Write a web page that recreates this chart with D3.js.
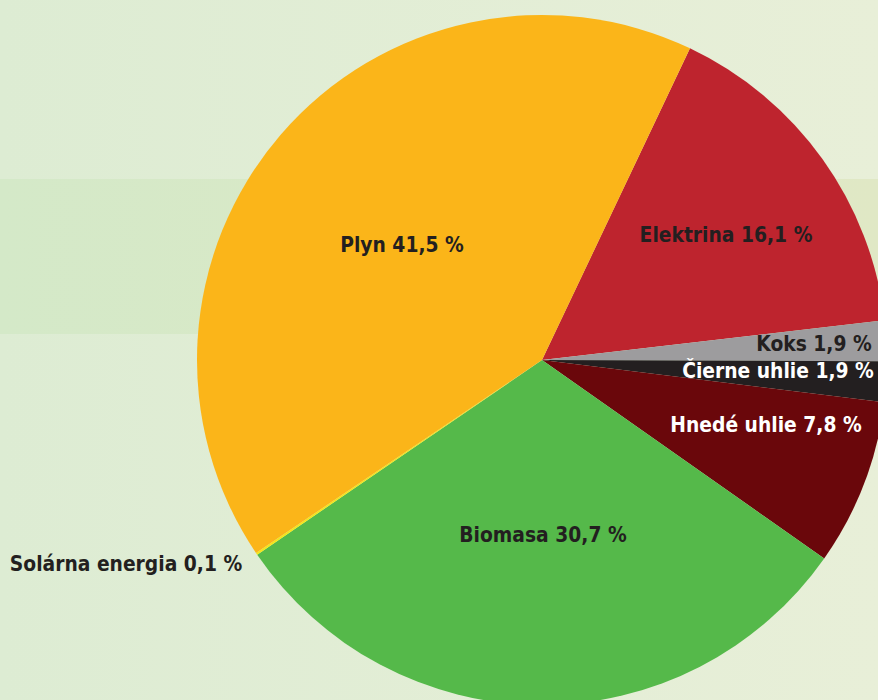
<!DOCTYPE html>
<html lang="sk">
<head>
<meta charset="UTF-8">
<title>Spotreba energie podľa zdroja</title>
<script src="https://d3js.org/d3.v7.min.js"></script>
<style>
  html, body { margin: 0; padding: 0; overflow: hidden; }
  svg { display: block; }
  .label { font-family: "DejaVu Sans Condensed", "DejaVu Sans", sans-serif; font-weight: bold; font-size: 20.8px; }
</style>
</head>
<body>
<svg width="878" height="700"></svg>
<script>
// data (order = clockwise from the top-right)
const zdroje  = ["Elektrina", "Koks", "Čierne uhlie", "Hnedé uhlie", "Biomasa", "Solárna energia", "Plyn"];
const podiely = [16.1, 1.9, 1.9, 7.8, 30.7, 0.1, 41.5];
const farby   = ["#be242e", "#9d9c9e", "#231f20", "#6a070b", "#55b94a", "#f4e61a", "#fbb519"];
const textFarby = ["#231f20", "#231f20", "#ffffff", "#ffffff", "#231f20", "#231f20", "#231f20"];

const W = 878, H = 700;
const cx = 542, cy = 360, R = 345;
const startUhol = 25.4 * Math.PI / 180;

// label placement relative to pie centre [dx, dy(baseline)]
const labelLayout = {
  "Plyn":            [-140, -108],
  "Elektrina":       [184, -118],
  "Koks":            [272, -9],
  "Čierne uhlie":    [236, 18],
  "Hnedé uhlie":     [224, 72],
  "Biomasa":         [1, 182],
  "Solárna energia": [-416, 211]
};

const data = zdroje.map((z, i) => ({ zdroj: z, podiel: podiely[i], farba: farby[i], text: textFarby[i] }));

const svg = d3.select("svg");
const defs = svg.append("defs");

const g1 = defs.append("linearGradient").attr("id", "bg").attr("x1", "0").attr("x2", "1").attr("y1", "0").attr("y2", "0");
g1.append("stop").attr("offset", "0").attr("stop-color", "#ddecd3");
g1.append("stop").attr("offset", "1").attr("stop-color", "#e8efd8");

const g2 = defs.append("linearGradient").attr("id", "band").attr("x1", "0").attr("x2", "1").attr("y1", "0").attr("y2", "0");
g2.append("stop").attr("offset", "0").attr("stop-color", "#d4e9c8");
g2.append("stop").attr("offset", "1").attr("stop-color", "#e0e8c5");

svg.append("rect").attr("width", W).attr("height", H).attr("fill", "url(#bg)");
svg.append("rect").attr("y", 179).attr("width", W).attr("height", 155).attr("fill", "url(#band)");

const pie = d3.pie()
  .sort(null)
  .value(d => d.podiel)
  .startAngle(startUhol)
  .endAngle(startUhol + 2 * Math.PI);

const arc = d3.arc().innerRadius(0).outerRadius(R);

const chart = svg.append("g").attr("transform", `translate(${cx},${cy})`);

chart.selectAll("path")
  .data(pie(data))
  .enter()
  .append("path")
  .attr("d", arc)
  .attr("fill", d => d.data.farba);

const fmt = v => d3.format(".1f")(v).replace(".", ",") + " %";

chart.selectAll(".label")
  .data(pie(data))
  .enter()
  .append("text")
  .attr("class", "label")
  .attr("text-anchor", "middle")
  .attr("x", d => labelLayout[d.data.zdroj][0])
  .attr("y", d => labelLayout[d.data.zdroj][1])
  .attr("fill", d => d.data.text)
  .text(d => d.data.zdroj + " " + fmt(d.data.podiel));
</script>
</body>
</html>
